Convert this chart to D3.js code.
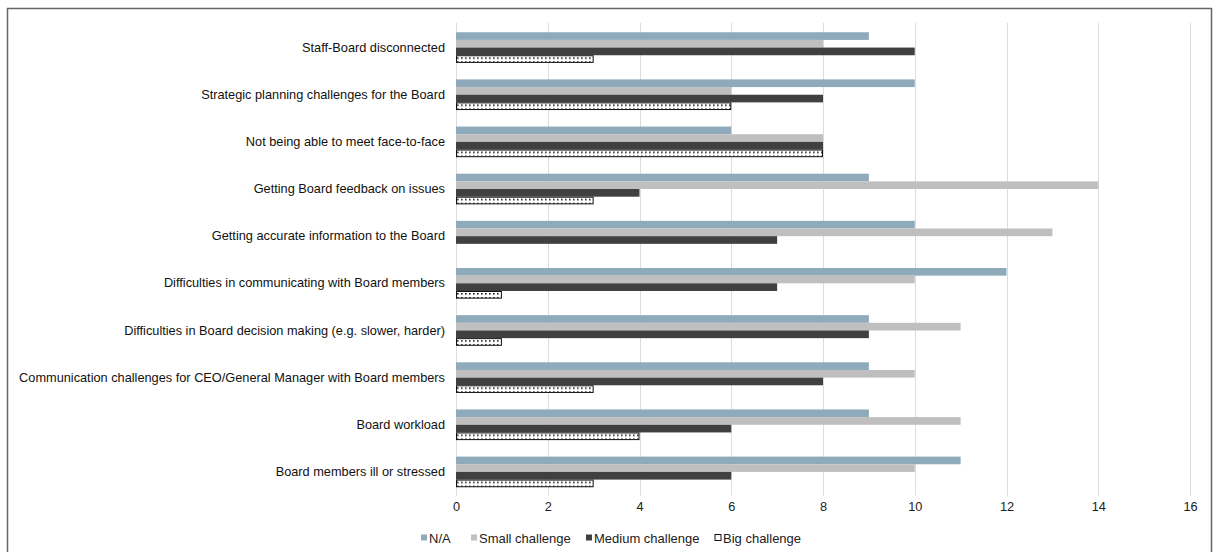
<!DOCTYPE html>
<html>
<head>
<meta charset="utf-8">
<script src="https://cdn.jsdelivr.net/npm/d3@7"></script>
<style>
  html, body { margin: 0; padding: 0; background: #fff; }
  svg { display: block; font-family: "Liberation Sans", Arial, sans-serif; }
</style>
</head>
<body>
<svg id="chart" width="1216" height="552"></svg>
<script>
// Challenges reported, one row per issue (top to bottom)
const categories = [
  "Staff-Board disconnected",
  "Strategic planning challenges for the Board",
  "Not being able to meet face-to-face",
  "Getting Board feedback on issues",
  "Getting accurate information to the Board",
  "Difficulties in communicating with Board members",
  "Difficulties in Board decision making (e.g. slower, harder)",
  "Communication challenges for CEO/General Manager with Board members",
  "Board workload",
  "Board members ill or stressed"
];
const seriesNames = ["N/A", "Small challenge", "Medium challenge", "Big challenge"];
const naValues     = [9, 10, 6, 9, 10, 12, 9, 9, 9, 11];
const smallValues  = [8, 6, 8, 14, 13, 10, 11, 10, 11, 10];
const mediumValues = [10, 8, 8, 4, 7, 7, 9, 8, 6, 6];
const bigValues    = [3, 6, 8, 3, 0, 1, 1, 3, 4, 3];
const xTicks = [0, 2, 4, 6, 8, 10, 12, 14, 16];

const seriesValues = [naValues, smallValues, mediumValues, bigValues];
const fills = ["#8fabbb", "#bfbfbf", "#404040", "url(#dots)"];

const svg = d3.select("#chart");

// dotted fill used for the "Big challenge" series
const defs = svg.append("defs");
const pat = defs.append("pattern")
  .attr("id", "dots").attr("patternUnits", "userSpaceOnUse")
  .attr("width", 4).attr("height", 4);
pat.append("rect").attr("width", 4).attr("height", 4).attr("fill", "#fff");
pat.append("rect").attr("x", 1).attr("y", 1).attr("width", 1.6).attr("height", 1.6).attr("fill", "#222");

// outer frame (open at the bottom)
svg.append("path")
  .attr("d", "M7.5,552 V8.5 H1211.5 V552")
  .attr("fill", "none").attr("stroke", "#666").attr("stroke-width", 1.5);

const plot = { left: 456, right: 1190, top: 24, bottom: 495.5 };

const x = d3.scaleLinear().domain([0, 16]).range([plot.left, plot.right]);
const y = d3.scaleBand().domain(categories).range([plot.top, plot.bottom]).paddingInner(0.35).paddingOuter(0.175);
const ySub = d3.scaleBand().domain(seriesNames).range([0, y.bandwidth()]);

// vertical gridlines
svg.append("g").selectAll("line").data(xTicks).join("line")
  .attr("x1", d => Math.round(x(d)) + 0.5).attr("x2", d => Math.round(x(d)) + 0.5)
  .attr("y1", plot.top - 1).attr("y2", plot.bottom)
  .attr("stroke", "#dcdcdc").attr("stroke-width", 1);

// bars
const groups = svg.append("g").selectAll("g").data(categories).join("g")
  .attr("transform", d => `translate(0,${y(d)})`);

groups.each(function(cat, i) {
  const g = d3.select(this);
  seriesNames.forEach((s, k) => {
    const v = seriesValues[k][i];
    if (v <= 0) return;
    const r = g.append("rect")
      .attr("x", x(0))
      .attr("y", ySub(s))
      .attr("width", x(v) - x(0))
      .attr("height", ySub.bandwidth())
      .attr("fill", fills[k]);
    if (k === 3) {
      r.attr("x", x(0) + 0.5).attr("y", ySub(s) + 0.5)
       .attr("width", x(v) - x(0) - 1).attr("height", ySub.bandwidth() - 1)
       .attr("stroke", "#111").attr("stroke-width", 1);
    }
  });
});

// category labels
const yAxis = d3.axisLeft(y).tickSize(0).tickPadding(11);
const yg = svg.append("g").attr("transform", `translate(${plot.left},0)`).call(yAxis);
yg.select(".domain").remove();
yg.selectAll("text").attr("font-size", 12.75).attr("fill", "#111")
  .attr("font-family", "Liberation Sans, Arial, sans-serif");

// value axis
const xAxis = d3.axisBottom(x).tickValues(xTicks).tickSize(0).tickPadding(6).tickFormat(d3.format("d"));
const xg = svg.append("g").attr("transform", `translate(0,${plot.bottom})`).call(xAxis);
xg.select(".domain").remove();
xg.selectAll("text").attr("font-size", 12.75).attr("fill", "#222")
  .attr("font-family", "Liberation Sans, Arial, sans-serif");

// legend
const legendItems = [
  { name: "N/A", x: 421 },
  { name: "Small challenge", x: 471 },
  { name: "Medium challenge", x: 586 },
  { name: "Big challenge", x: 715 }
];
const lg = svg.append("g").attr("transform", "translate(0,538)");
legendItems.forEach((it, k) => {
  const sw = lg.append("rect").attr("x", it.x).attr("y", -3.5).attr("width", 6).attr("height", 6)
    .attr("fill", fills[k]);
  if (k === 3) sw.attr("stroke", "#111").attr("stroke-width", 1).attr("fill", "#fff");
  lg.append("text").attr("x", it.x + 8).attr("y", 0).attr("dy", "0.35em")
    .attr("font-size", 13).attr("fill", "#222").text(it.name);
});
</script>
</body>
</html>
